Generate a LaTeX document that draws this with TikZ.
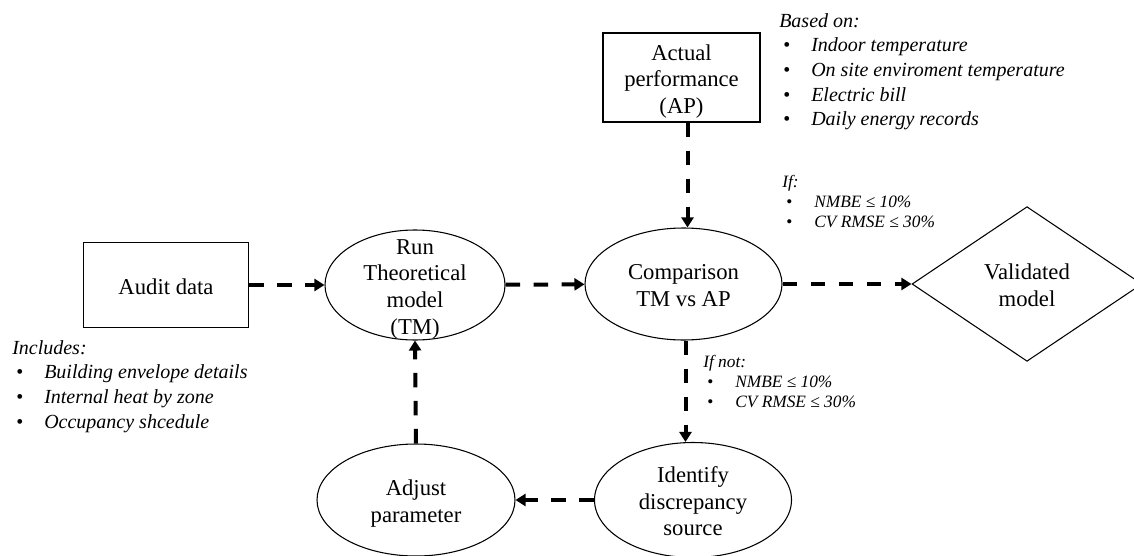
\documentclass[tikz,border=0pt]{standalone}
\usepackage{fontspec}
\setmainfont{Liberation Serif}
\usetikzlibrary{shapes.geometric,arrows.meta}
\newcommand{\mainsz}{\fontsize{17pt}{20pt}\selectfont}
\newcommand{\notesz}{\fontsize{15pt}{18.5pt}\selectfont\itshape}
\newcommand{\smallsz}{\fontsize{13pt}{15pt}\selectfont\itshape}
\newcommand{\bul}{\hspace*{3pt}\makebox[21pt][l]{\upshape •}}
\newcommand{\cbox}[1]{\raisebox{-7.3pt}[0pt][0pt]{\makebox[0pt]{\begin{tabular}{@{}c@{}}#1\end{tabular}}}}
\begin{document}
\begin{tikzpicture}[x=0.75pt,y=-0.75pt,
  shapebase/.style={draw, line width=0.8pt, inner sep=0pt, font=\mainsz},
  boxnode/.style={shapebase, rectangle},
  ellnode/.style={shapebase, ellipse},
  dianode/.style={shapebase, diamond},
  note/.style={inner sep=0pt, anchor=base west, align=left, font=\notesz},
  smallnote/.style={inner sep=0pt, anchor=base west, align=left, font=\smallsz},
  flow/.style={line width=3pt, dash pattern=on 11pt off 10pt, -{Triangle[width=9pt,length=7.5pt]}}
]
\useasboundingbox (0,0) rectangle (1134,556);

\node[boxnode, minimum width=123.75pt, minimum height=63.75pt] (audit) at (166,285) {\cbox{Audit data}};
\node[boxnode, minimum width=117.75pt, minimum height=66.75pt] (ap) at (681.5,77.5) {\cbox{Actual\\performance\\(AP)}};
\node[ellnode, minimum width=135pt, minimum height=82.5pt] (tm) at (415,285) {\cbox{Run\\Theoretical\\model\\(TM)}};
\node[ellnode, minimum width=147.75pt, minimum height=84pt] (comp) at (683.5,284) {\cbox{Comparison\\TM vs AP}};
\node[dianode, minimum width=172.5pt, minimum height=116pt] (valid) at (1027,284) {\cbox{Validated\\model}};
\node[ellnode, minimum width=147.75pt, minimum height=86.25pt] (ident) at (693,500) {\cbox{Identify\\discrepancy\\source}};
\node[ellnode, minimum width=148.5pt, minimum height=84pt] (adj) at (416,500) {\cbox{Adjust\\parameter}};

\draw[flow] (audit) -- (tm);
\draw[flow] (tm) -- (comp);
\draw[flow] (comp) -- (valid);
\draw[flow] ([xshift=4.5pt]ap.south) -- ([xshift=4.5pt]ap.south |- comp.north);
\draw[flow] ([xshift=1.5pt]comp.south) -- ([xshift=1.5pt]comp.south |- ident.north);
\draw[flow] (ident) -- (adj);
\draw[flow] (adj.north) -- (tm.south);

\node[note] (basedon) at (779,126) {Based on:\\\bul Indoor temperature\\\bul On site enviroment temperature\\\bul Electric bill\\\bul Daily energy records};
\node[smallnote] (ifyes) at (782,227) {If:\\\bul NMBE ≤ 10\%\\\bul CV RMSE ≤ 30\%};
\node[smallnote] (ifnot) at (703,407) {If not:\\\bul NMBE ≤ 10\%\\\bul CV RMSE ≤ 30\%};
\node[note] (includes) at (12,428) {Includes:\\\bul Building envelope details\\\bul Internal heat by zone\\\bul Occupancy shcedule};
\end{tikzpicture}
\end{document}
